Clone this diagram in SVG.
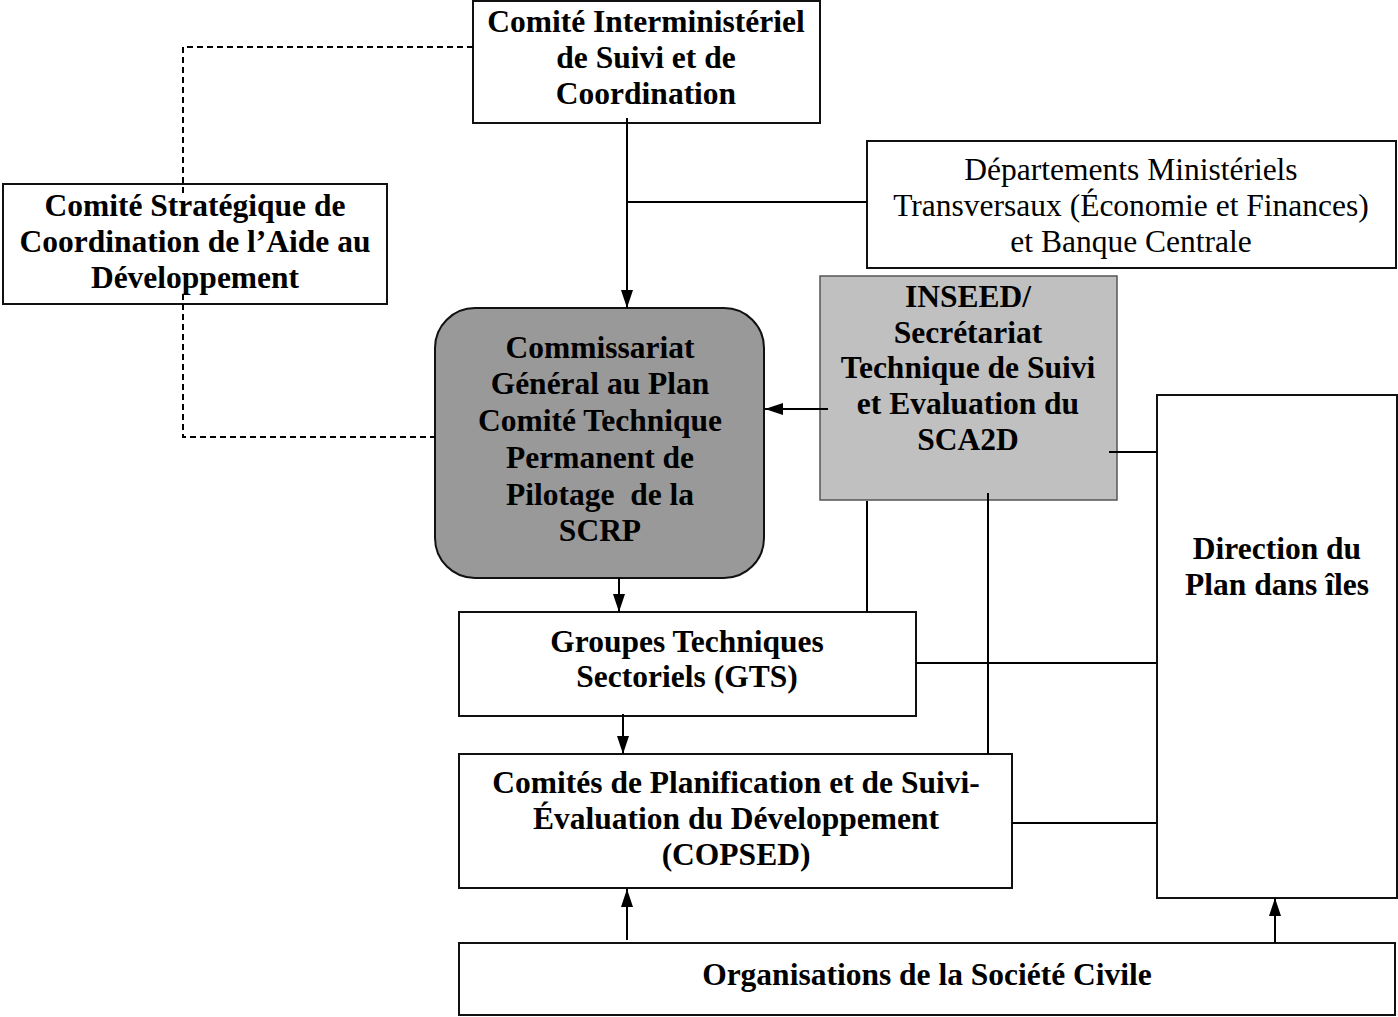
<svg xmlns="http://www.w3.org/2000/svg" width="1398" height="1017" viewBox="0 0 1398 1017">
<style>
.box{fill:#fff;stroke:#111;stroke-width:2}
.t{font-family:"Liberation Serif","Times New Roman",serif;font-size:31.5px;font-weight:bold;fill:#000;text-anchor:middle}
.n{font-weight:normal}
.c{fill:none;stroke:#000;stroke-width:2}
.d{fill:none;stroke:#000;stroke-width:2;stroke-dasharray:6 4}
</style>
<defs>
<marker id="ah" markerUnits="userSpaceOnUse" markerWidth="20" markerHeight="14" refX="18" refY="6" orient="auto">
<path d="M0,0 L18,6 L0,12 z" fill="#000"/>
</marker>
</defs>
<rect width="1398" height="1017" fill="#fff"/>
<g id="cisc">
<rect class="box" x="473" y="1" width="347" height="122"/>
<text class="t" x="646" y="32">Comité Interministériel</text>
<text class="t" x="646" y="68">de Suivi et de</text>
<text class="t" x="646" y="104">Coordination</text>
</g>
<g id="departements">
<rect class="box" x="867" y="141" width="529" height="127"/>
<text class="t n" x="1131" y="180">Départements Ministériels</text>
<text class="t n" x="1131" y="216">Transversaux (Économie et Finances)</text>
<text class="t n" x="1131" y="252">et Banque Centrale</text>
</g>
<g id="strategique">
<rect class="box" x="3" y="184" width="384" height="120"/>
<text class="t" x="195" y="216">Comité Stratégique de</text>
<text class="t" x="195" y="252">Coordination de l’Aide au</text>
<text class="t" x="195" y="288">Développement</text>
</g>
<g id="cgp">
<rect x="435" y="308" width="329" height="270" rx="40" ry="40" fill="#999" stroke="#111" stroke-width="2"/>
<text class="t" x="600" y="358">Commissariat</text>
<text class="t" x="600" y="394">Général au Plan</text>
<text class="t" x="600" y="431">Comité Technique</text>
<text class="t" x="600" y="468">Permanent de</text>
<text class="t" x="600" y="505" style="white-space:pre">Pilotage  de la</text>
<text class="t" x="600" y="541">SCRP</text>
</g>
<g id="inseed">
<rect x="820" y="276" width="297" height="224" fill="#c0c0c0" stroke="#555" stroke-width="1.5"/>
<text class="t" x="968" y="307">INSEED/</text>
<text class="t" x="968" y="343">Secrétariat</text>
<text class="t" x="968" y="378">Technique de Suivi</text>
<text class="t" x="968" y="414">et Evaluation du</text>
<text class="t" x="968" y="450">SCA2D</text>
</g>
<g id="direction">
<rect class="box" x="1157" y="395" width="240" height="503"/>
<text class="t" x="1277" y="559">Direction du</text>
<text class="t" x="1277" y="595">Plan dans îles</text>
</g>
<g id="gts">
<rect class="box" x="459" y="612" width="457" height="104"/>
<text class="t" x="687" y="652">Groupes Techniques</text>
<text class="t" x="687" y="687">Sectoriels (GTS)</text>
</g>
<g id="copsed">
<rect class="box" x="459" y="754" width="553" height="134"/>
<text class="t" x="736" y="793">Comités de Planification et de Suivi-</text>
<text class="t" x="736" y="829">Évaluation du Développement</text>
<text class="t" x="736" y="865">(COPSED)</text>
</g>
<g id="osc">
<rect class="box" x="459" y="943" width="936" height="72"/>
<text class="t" x="927" y="985">Organisations de la Société Civile</text>
</g>
<g id="connectors">
<path class="c" d="M627,118 V308" marker-end="url(#ah)"/>
<path class="c" d="M627,202 H867"/>
<path class="d" d="M473,47 H183 V194"/>
<path class="d" d="M183,294 V437 H435"/>
<path class="c" d="M828,409 H765" marker-end="url(#ah)"/>
<path class="c" d="M1109,452 H1157"/>
<path class="c" d="M867,501 V612"/>
<path class="c" d="M988,493 V754"/>
<path class="c" d="M619,578 V612" marker-end="url(#ah)"/>
<path class="c" d="M916,663 H1157"/>
<path class="c" d="M623,714 V754" marker-end="url(#ah)"/>
<path class="c" d="M1012,823 H1157"/>
<path class="c" d="M627,940 V889" marker-end="url(#ah)"/>
<path class="c" d="M1275,943 V898" marker-end="url(#ah)"/>
</g>
</svg>
